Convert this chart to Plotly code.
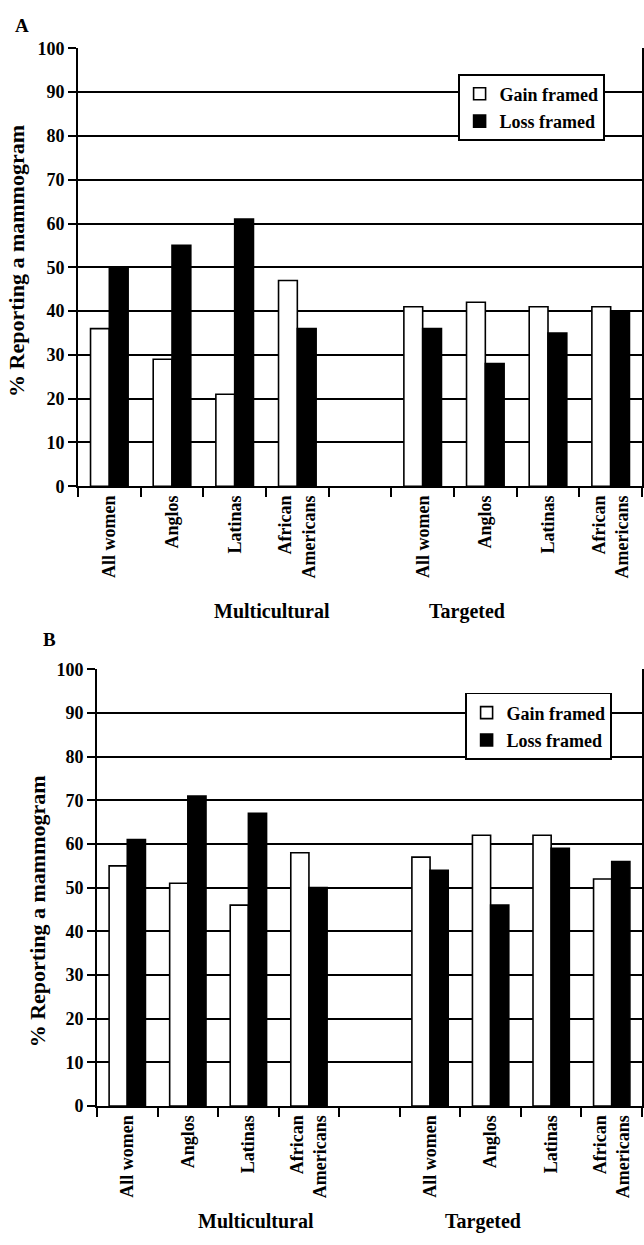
import plotly.graph_objects as go

# ---- data ----
slot_keys = ["MC_All", "MC_Anglos", "MC_Latinas", "MC_AfrAm", "gap",
             "TG_All", "TG_Anglos", "TG_Latinas", "TG_AfrAm"]
slot_labels = ["All women", "Anglos", "Latinas", "African<br>Americans", "",
               "All women", "Anglos", "Latinas", "African<br>Americans"]
bar_keys = ["MC_All", "MC_Anglos", "MC_Latinas", "MC_AfrAm",
            "TG_All", "TG_Anglos", "TG_Latinas", "TG_AfrAm"]

a_gain = [36, 29, 21, 47, 41, 42, 41, 41]
a_loss = [50, 55, 61, 36, 36, 28, 35, 40]
b_gain = [55, 51, 46, 58, 57, 62, 62, 52]
b_loss = [61, 71, 67, 50, 54, 46, 59, 56]

y_ticks = list(range(0, 101, 10))
series_names = ["Gain framed", "Loss framed"]
group_names = ["Multicultural", "Targeted"]

FONT = "Liberation Serif"
W, H = 644, 1245

fig = go.Figure()

def add_pair(gain, loss, xa, ya, leg, grp):
    fig.add_trace(go.Bar(x=bar_keys, y=gain, name=series_names[0],
                         marker=dict(color="white", line=dict(color="black", width=1.6)),
                         xaxis=xa, yaxis=ya, legend=leg, legendgroup=grp + "g"))
    fig.add_trace(go.Bar(x=bar_keys, y=loss, name=series_names[1],
                         marker=dict(color="black", line=dict(color="black", width=1.6)),
                         xaxis=xa, yaxis=ya, legend=leg, legendgroup=grp + "l"))

add_pair(a_gain, a_loss, "x", "y", "legend", "A")
add_pair(b_gain, b_loss, "x2", "y2", "legend2", "B")

def px_y(py):
    return 1 - py / H

xcommon = dict(type="category", categoryorder="array", categoryarray=slot_keys,
               tickmode="array", tickvals=slot_keys, ticktext=slot_labels,
               tickson="boundaries", range=[-0.5, 8.5],
               showline=True, linecolor="black", linewidth=2,
               ticks="outside", ticklen=9, tickwidth=2, tickcolor="black",
               tickangle=-90, showgrid=False, zeroline=False,
               tickfont=dict(family=FONT, size=18, color="black", weight="bold"))
ycommon = dict(range=[0, 100], tickmode="array", tickvals=y_ticks,
               showline=True, linecolor="black", linewidth=2, mirror=True,
               ticks="outside", ticklen=8, tickwidth=2, tickcolor="black",
               showgrid=True, gridcolor="black", gridwidth=1.6, zeroline=False,
               tickfont=dict(family=FONT, size=18, color="black", weight="bold"))

legcommon = dict(bgcolor="white", bordercolor="black", borderwidth=1.6,
                 font=dict(family=FONT, size=18, color="black", weight="bold"),
                 tracegroupgap=1, xanchor="left", yanchor="top", itemwidth=30)

fig.update_layout(
    width=W, height=H,
    margin=dict(l=0, r=0, t=0, b=0),
    paper_bgcolor="white", plot_bgcolor="white",
    barmode="group", bargap=0.40, bargroupgap=0.0,
    xaxis=dict(domain=[78 / W, 642 / W], anchor="y", **xcommon),
    yaxis=dict(domain=[px_y(484), px_y(39)], anchor="x", **ycommon),
    xaxis2=dict(domain=[97 / W, 642 / W], anchor="y2", **xcommon),
    yaxis2=dict(domain=[px_y(1114), px_y(670)], anchor="x2", **ycommon),
    legend=dict(x=458 / W, y=px_y(65), **legcommon),
    legend2=dict(x=465 / W, y=px_y(694), **legcommon),
    showlegend=True,
)

def ann(text, x, y, size, angle=0):
    fig.add_annotation(text=text, x=x / W, y=px_y(y), xref="paper", yref="paper",
                       showarrow=False, textangle=angle, xanchor="center", yanchor="middle",
                       font=dict(family=FONT, size=size, color="black", weight="bold"))

ann("A", 22, 16, 19)
ann("B", 49, 640, 19)
ann("% Reporting a mammogram", 17, 255, 22, -90)
ann("% Reporting a mammogram", 37, 916, 22, -90)
ann(group_names[0], 272, 611, 20)
ann(group_names[1], 467, 611, 20)
ann(group_names[0], 256, 1231, 20)
ann(group_names[1], 483, 1231, 20)

fig.write_html("out.html", config={"displayModeBar": False},
               post_script="document.body.style.margin='0px';document.body.style.overflow='hidden';")
